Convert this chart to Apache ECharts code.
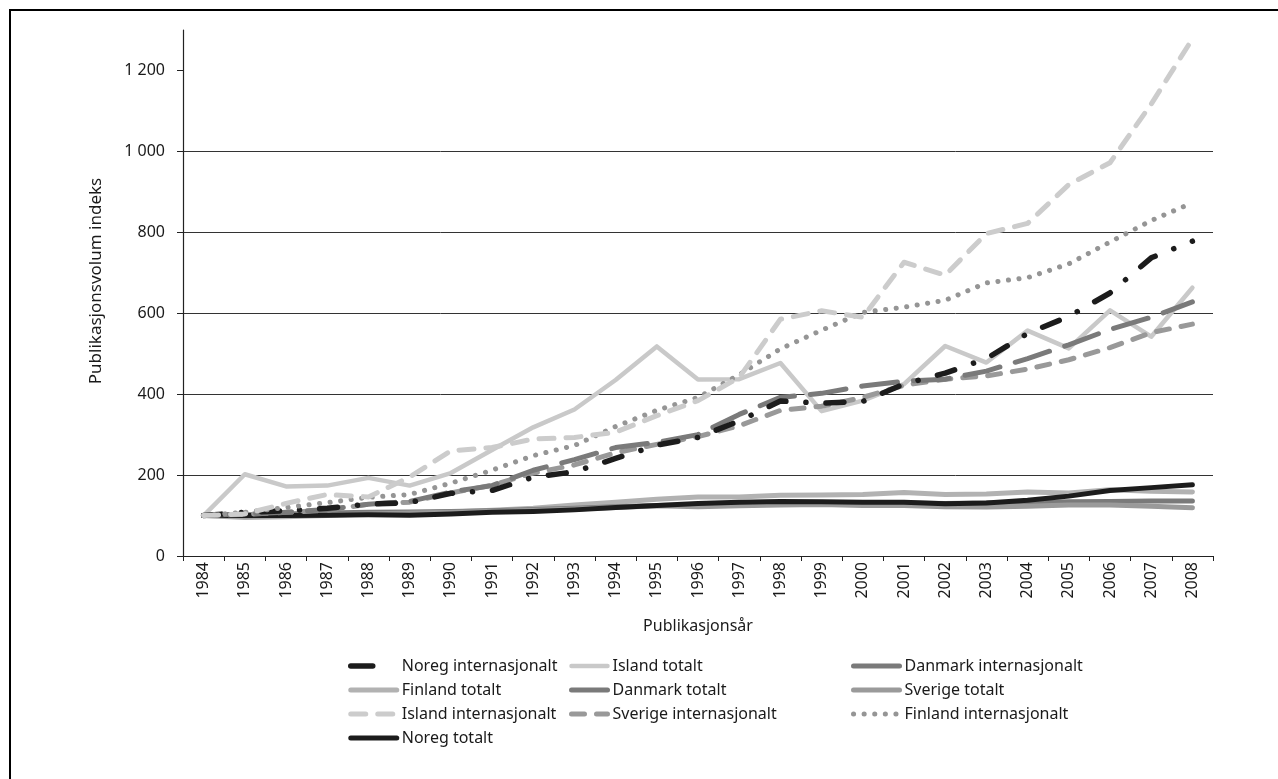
<!DOCTYPE html>
<html><head><meta charset="utf-8">
<script src="https://cdn.jsdelivr.net/npm/echarts@6/dist/echarts.min.js"></script>
<style>html,body{margin:0;padding:0;background:#fff}#c{width:1278px;height:779px}</style>
</head><body><div id="c"></div>
<script>
const years = ['1984','1985','1986','1987','1988','1989','1990','1991','1992','1993','1994','1995','1996','1997','1998','1999','2000','2001','2002','2003','2004','2005','2006','2007','2008'];
const yTicks = [0, 200, 400, 600, 800, 1000, 1200];

const noregInt   = [100, 108, 112, 118, 128, 132, 155, 162, 195, 208, 241, 274, 293, 334, 383, 378, 382, 425, 452, 488, 550, 592, 650, 737, 778];
const islandTot  = [100, 202, 172, 174, 193, 174, 205, 262, 318, 362, 435, 518, 436, 437, 477, 358, 384, 425, 519, 478, 557, 513, 607, 542, 663];
const danmarkInt = [100, 104, 108, 115, 128, 135, 158, 174, 212, 238, 268, 281, 300, 350, 392, 402, 420, 432, 437, 457, 488, 522, 560, 590, 628];
const finlandTot = [100, 95, 97, 100, 104, 106, 109, 113, 118, 126, 133, 140, 146, 146, 150, 151, 152, 157, 152, 153, 158, 156, 164, 160, 158];
const danmarkTot = [100, 102, 104, 106, 108, 109, 110, 112, 115, 118, 122, 125, 126, 127, 129, 130, 130, 131, 130, 131, 132, 134, 135, 136, 136];
const sverigeTot = [100, 98, 100, 102, 104, 106, 108, 110, 113, 116, 120, 124, 122, 124, 126, 127, 125, 125, 122, 121, 123, 126, 126, 123, 119];
const islandInt  = [100, 104, 130, 152, 146, 195, 260, 268, 289, 293, 306, 347, 384, 441, 585, 606, 590, 726, 694, 797, 822, 918, 972, 1117, 1278];
const sverigeInt = [100, 103, 108, 113, 128, 133, 156, 175, 205, 225, 255, 276, 295, 322, 360, 370, 392, 422, 437, 445, 462, 485, 515, 552, 573];
const finlandInt = [100, 108, 120, 132, 145, 152, 180, 212, 248, 273, 320, 360, 392, 448, 512, 558, 602, 615, 632, 675, 688, 722, 776, 829, 873];
const noregTot   = [100, 100, 100, 101, 102, 101, 104, 108, 110, 114, 120, 125, 130, 133, 135, 134, 133, 133, 129, 131, 138, 148, 162, 169, 176];

const legendCol1 = ['Noreg internasjonalt', 'Finland totalt', 'Island internasjonalt', 'Noreg totalt'];
const legendCol2 = ['Island totalt', 'Danmark totalt', 'Sverige internasjonalt'];
const legendCol3 = ['Danmark internasjonalt', 'Sverige totalt', 'Finland internasjonalt'];

const FONT = 'Noto Sans';
const chart = echarts.init(document.getElementById('c'), null, {renderer: 'canvas'});

const styles = {
  'Finland totalt':         {color: '#b2b2b2', width: 5},
  'Danmark totalt':         {color: '#7a7a7a', width: 5},
  'Sverige totalt':         {color: '#9a9a9a', width: 5},
  'Noreg totalt':           {color: '#1c1c1c', width: 5},
  'Island totalt':          {color: '#c9c9c9', width: 4.5},
  'Sverige internasjonalt': {color: '#999999', width: 5, dash: [13, 12]},
  'Danmark internasjonalt': {color: '#7a7a7a', width: 5, dash: [36, 16], legDash: 'solid'},
  'Noreg internasjonalt':   {color: '#1c1c1c', width: 5.5, dash: [18, 20, 0.1, 20], legDash: [22, 60]},
  'Finland internasjonalt': {color: '#959595', width: 5, dash: [0.1, 10.5]},
  'Island internasjonalt':  {color: '#cccccc', width: 5, dash: [15, 12]}
};

function mk(name, data) {
  const s = styles[name];
  return {
    name, type: 'line', data, showSymbol: false, symbol: 'none', clip: false,
    lineStyle: {color: s.color, width: s.width, type: s.dash || 'solid', cap: 'round', join: 'round'},
    itemStyle: {color: s.color},
    emphasis: {disabled: true}
  };
}
function legItem(name) {
  const s = styles[name];
  return {
    name,
    itemStyle: {opacity: 0},
    lineStyle: {color: s.color, width: s.width, type: s.legDash || s.dash || 'solid', cap: 'round'}
  };
}
function legend(left, width, names) {
  return {
    left, top: 653, orient: 'vertical', itemWidth: width, itemHeight: 14, itemGap: 8,
    textStyle: {fontFamily: FONT, fontSize: 16, color: '#1a1a1a'},
    selectedMode: false, data: names.map(legItem)
  };
}

chart.setOption({
  animation: false,
  backgroundColor: '#fff',
  grid: {left: 183, right: 65, top: 30, bottom: 223, containLabel: false},
  xAxis: {
    type: 'category', data: years, boundaryGap: true,
    name: 'Publikasjonsår', nameLocation: 'middle', nameGap: 62,
    nameTextStyle: {fontFamily: FONT, fontSize: 16, color: '#1a1a1a'},
    axisLine: {lineStyle: {color: '#222', width: 1.2}},
    axisTick: {show: true, alignWithLabel: false, length: 5, lineStyle: {color: '#222'}},
    axisLabel: {rotate: 90, margin: 6, fontFamily: FONT, fontSize: 16, color: '#1a1a1a', interval: 0},
    splitLine: {show: false}
  },
  yAxis: {
    type: 'value', min: 0, max: 1300, interval: 200,
    name: 'Publikasjonsvolum indeks', nameLocation: 'middle', nameGap: 78, nameRotate: 90,
    nameTextStyle: {fontFamily: FONT, fontSize: 17, color: '#1a1a1a', padding: [0, 0, 0, 24]},
    axisLine: {show: true, lineStyle: {color: '#222', width: 1.2}},
    axisTick: {show: true, inside: false, length: 6, customValues: yTicks, lineStyle: {color: '#222'}},
    axisLabel: {
      margin: 18, fontFamily: FONT, fontSize: 16, color: '#1a1a1a',
      customValues: yTicks,
      formatter: v => v >= 1000 ? Math.floor(v / 1000) + ' ' + String(v % 1000).padStart(3, '0') : String(v)
    },
    splitLine: {show: true, showMinLine: false, showMaxLine: false, lineStyle: {color: '#333', width: 1}}
  },
  legend: [
    legend(343, 46, legendCol1),
    legend(564, 36, legendCol2),
    legend(846, 46, legendCol3)
  ],
  graphic: [{
    type: 'rect', shape: {x: 10, y: 10, width: 1400, height: 1000}, silent: true,
    style: {fill: 'none', stroke: '#000', lineWidth: 2}
  }],
  series: [
    mk('Finland totalt', finlandTot),
    mk('Danmark totalt', danmarkTot),
    mk('Sverige totalt', sverigeTot),
    mk('Noreg totalt', noregTot),
    mk('Island totalt', islandTot),
    mk('Sverige internasjonalt', sverigeInt),
    mk('Danmark internasjonalt', danmarkInt),
    mk('Noreg internasjonalt', noregInt),
    mk('Finland internasjonalt', finlandInt),
    mk('Island internasjonalt', islandInt)
  ]
});
</script></body></html>
